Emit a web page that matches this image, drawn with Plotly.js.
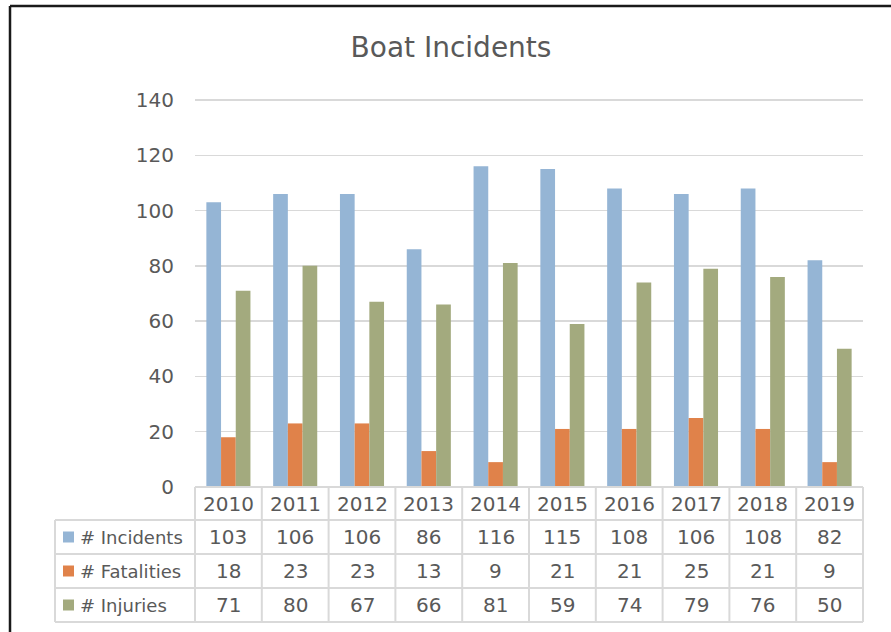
<!DOCTYPE html>
<html>
<head>
<meta charset="utf-8">
<script src="https://cdn.plot.ly/plotly-3.0.1.min.js"></script>
<style>html,body{margin:0;padding:0;background:#fff;}#chart{width:891px;height:632px;}</style>
</head>
<body>
<div id="chart"></div>
<script>
const years = ['2010','2011','2012','2013','2014','2015','2016','2017','2018','2019'];
const seriesNames = ['# Incidents', '# Fatalities', '# Injuries'];
const incidents = [103, 106, 106, 86, 116, 115, 108, 106, 108, 82];
const fatalities = [18, 23, 23, 13, 9, 21, 21, 25, 21, 9];
const injuries = [71, 80, 67, 66, 81, 59, 74, 79, 76, 50];
const colors = ['#95b5d5', '#e0824a', '#a3aa7e'];
const yTicks = [0, 20, 40, 60, 80, 100, 120, 140];

const W = 891, H = 632;
const FONT = 'DejaVu Sans, sans-serif';
const TXT = '#595959';
const px = v => v / W;
const py = v => 1 - v / H;

const plotL = 195, plotR = 863, plotT = 100, plotB = 487;
const yMax = 141;
const plotTop = plotB - (plotB - plotT) * yMax / 140;
const tableRows = [487, 520, 554, 588, 622];
const legendL = 55;

const allSeries = [incidents, fatalities, injuries];
const traces = allSeries.map((vals, i) => ({
  type: 'bar', x: years, y: vals, name: seriesNames[i],
  marker: {color: colors[i]}, hoverinfo: 'x+y+name'
}));

const shapes = [];
const annotations = [];
const gridCol = '#d9d9d9';
// outer border (top and left)
shapes.push({type:'line', xref:'paper', yref:'paper', x0:px(10), x1:px(W+5), y0:py(6), y1:py(6), line:{color:'#1a1a1a', width:2.5}});
shapes.push({type:'line', xref:'paper', yref:'paper', x0:px(10), x1:px(10), y0:py(6), y1:py(H+5), line:{color:'#1a1a1a', width:2.5}});
// table horizontal lines
tableRows.forEach((yy, k) => {
  shapes.push({type:'line', xref:'paper', yref:'paper', x0:px(k === 0 ? plotL : legendL), x1:px(plotR), y0:py(yy), y1:py(yy), line:{color:gridCol, width:2}});
});
// table vertical lines
const catW = (plotR - plotL) / years.length;
for (let k = 0; k <= years.length; k++) {
  const xx = plotL + k * catW;
  shapes.push({type:'line', xref:'paper', yref:'paper', x0:px(xx), x1:px(xx), y0:py(tableRows[0]), y1:py(tableRows[4]), line:{color:gridCol, width:2}});
}
shapes.push({type:'line', xref:'paper', yref:'paper', x0:px(legendL), x1:px(legendL), y0:py(tableRows[1]), y1:py(tableRows[4]), line:{color:gridCol, width:2}});

// header row (years)
years.forEach((yr, j) => {
  annotations.push({xref:'paper', yref:'paper', x:px(plotL + (j + 0.5) * catW), y:py((tableRows[0] + tableRows[1]) / 2), text:yr, showarrow:false, xanchor:'center', yanchor:'middle', font:{family:FONT, size:20, color:TXT}});
});
// data rows
allSeries.forEach((vals, i) => {
  const cy = (tableRows[i + 1] + tableRows[i + 2]) / 2;
  vals.forEach((v, j) => {
    annotations.push({xref:'paper', yref:'paper', x:px(plotL + (j + 0.5) * catW), y:py(cy), text:String(v), showarrow:false, xanchor:'center', yanchor:'middle', font:{family:FONT, size:20, color:TXT}});
  });
  // legend key
  shapes.push({type:'rect', xref:'paper', yref:'paper', x0:px(63), x1:px(74), y0:py(cy - 5.5), y1:py(cy + 5.5), fillcolor:colors[i], line:{width:0}});
  annotations.push({xref:'paper', yref:'paper', x:px(78), y:py(cy), text:seriesNames[i], showarrow:false, xanchor:'left', yanchor:'middle', font:{family:FONT, size:18, color:TXT}});
});

const layout = {
  width: W, height: H,
  margin: {l:0, r:0, t:0, b:0},
  paper_bgcolor: '#fff', plot_bgcolor: '#fff',
  showlegend: false,
  bargap: 0.34, bargroupgap: 0,
  barmode: 'group',
  title: {text:'Boat Incidents', x: 451 / W, xanchor:'center', y: py(47), yanchor:'middle', font:{family:FONT, size:28, color:TXT}},
  xaxis: {domain:[px(plotL), px(plotR)], showticklabels:false, showgrid:false, zeroline:false, showline:false, ticks:'', fixedrange:true},
  yaxis: {domain:[py(plotB), py(plotTop)], range:[0, yMax], tickvals:yTicks, ticktext:yTicks.map(String), showgrid:true, gridcolor:gridCol, gridwidth:1.5, zeroline:false, showline:false, ticks:'', ticklabelstandoff:20, tickfont:{family:FONT, size:20, color:TXT}, fixedrange:true},
  shapes: shapes,
  annotations: annotations
};

Plotly.newPlot('chart', traces, layout, {displayModeBar:false, staticPlot:true});
</script>
</body>
</html>
